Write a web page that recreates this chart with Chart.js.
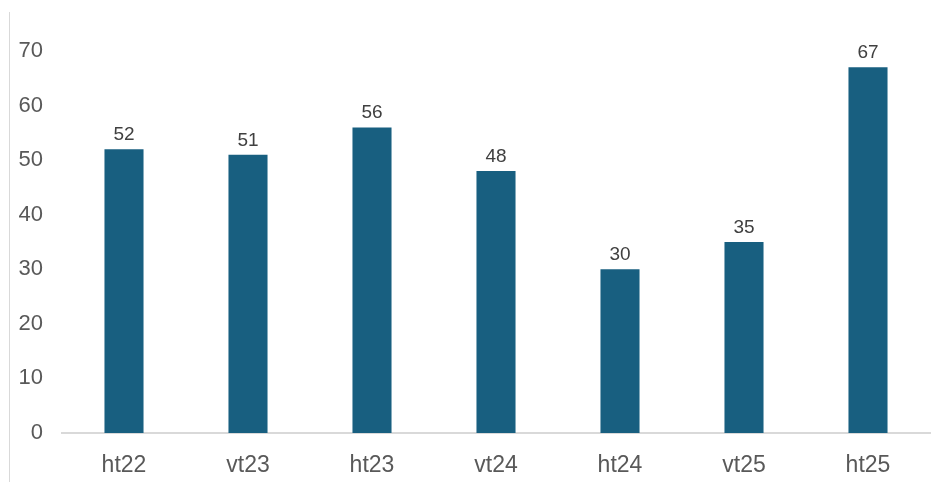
<!DOCTYPE html>
<html>
<head>
<meta charset="utf-8">
<script src="https://cdn.jsdelivr.net/npm/chart.js@4"></script>
<style>
  html, body { margin: 0; padding: 0; background: #fff; }
  .wrap { position: relative; width: 933px; height: 482px; }
  .edge { position: absolute; left: 9px; top: 12px; bottom: 0; border-left: 1px solid #d9d9d9; }
</style>
</head>
<body>
<div class="wrap">
  <div class="edge"></div>
  <canvas id="chart" width="933" height="482"></canvas>
</div>
<script>
const terms = ["ht22", "vt23", "ht23", "vt24", "ht24", "vt25", "ht25"];
const counts = [52, 51, 56, 48, 30, 35, 67];
const yTicks = [0, 10, 20, 30, 40, 50, 60, 70];

// simple value labels above the bars
const barLabels = {
  id: "barLabels",
  afterDatasetsDraw(chart) {
    const ctx = chart.ctx;
    const meta = chart.getDatasetMeta(0);
    ctx.save();
    ctx.font = "19px 'Liberation Sans', Arial, sans-serif";
    ctx.fillStyle = "#404040";
    ctx.textAlign = "center";
    ctx.textBaseline = "alphabetic";
    meta.data.forEach((bar, i) => {
      ctx.fillText(String(counts[i]), bar.x, bar.y - 9);
    });
    ctx.restore();
  }
};

new Chart(document.getElementById("chart"), {
  type: "bar",
  data: {
    labels: terms,
    datasets: [{
      data: counts,
      backgroundColor: "#185f80",
      borderWidth: 0,
      barPercentage: 0.315,
      categoryPercentage: 1
    }]
  },
  options: {
    responsive: false,
    animation: false,
    layout: { padding: { top: 51, right: 3, left: 0, bottom: 0 } },
    plugins: { legend: { display: false }, tooltip: { enabled: false } },
    scales: {
      x: {
        grid: { display: false, drawTicks: false },
        border: { display: true, color: "#d9d9d9", width: 2 },
        ticks: {
          color: "#595959",
          padding: 19,
          font: { family: "'Liberation Sans', Arial, sans-serif", size: 23 }
        },
        afterFit(scale) { scale.height = 49; }
      },
      y: {
        min: 0,
        max: 70,
        afterBuildTicks(scale) { scale.ticks = yTicks.map(v => ({ value: v })); },
        grid: { display: false, drawTicks: false },
        border: { display: false },
        ticks: {
          color: "#595959",
          padding: 19,
          font: { family: "'Liberation Sans', Arial, sans-serif", size: 22 }
        },
        afterFit(scale) { scale.width = 62; }
      }
    }
  },
  plugins: [barLabels]
});
</script>
</body>
</html>
